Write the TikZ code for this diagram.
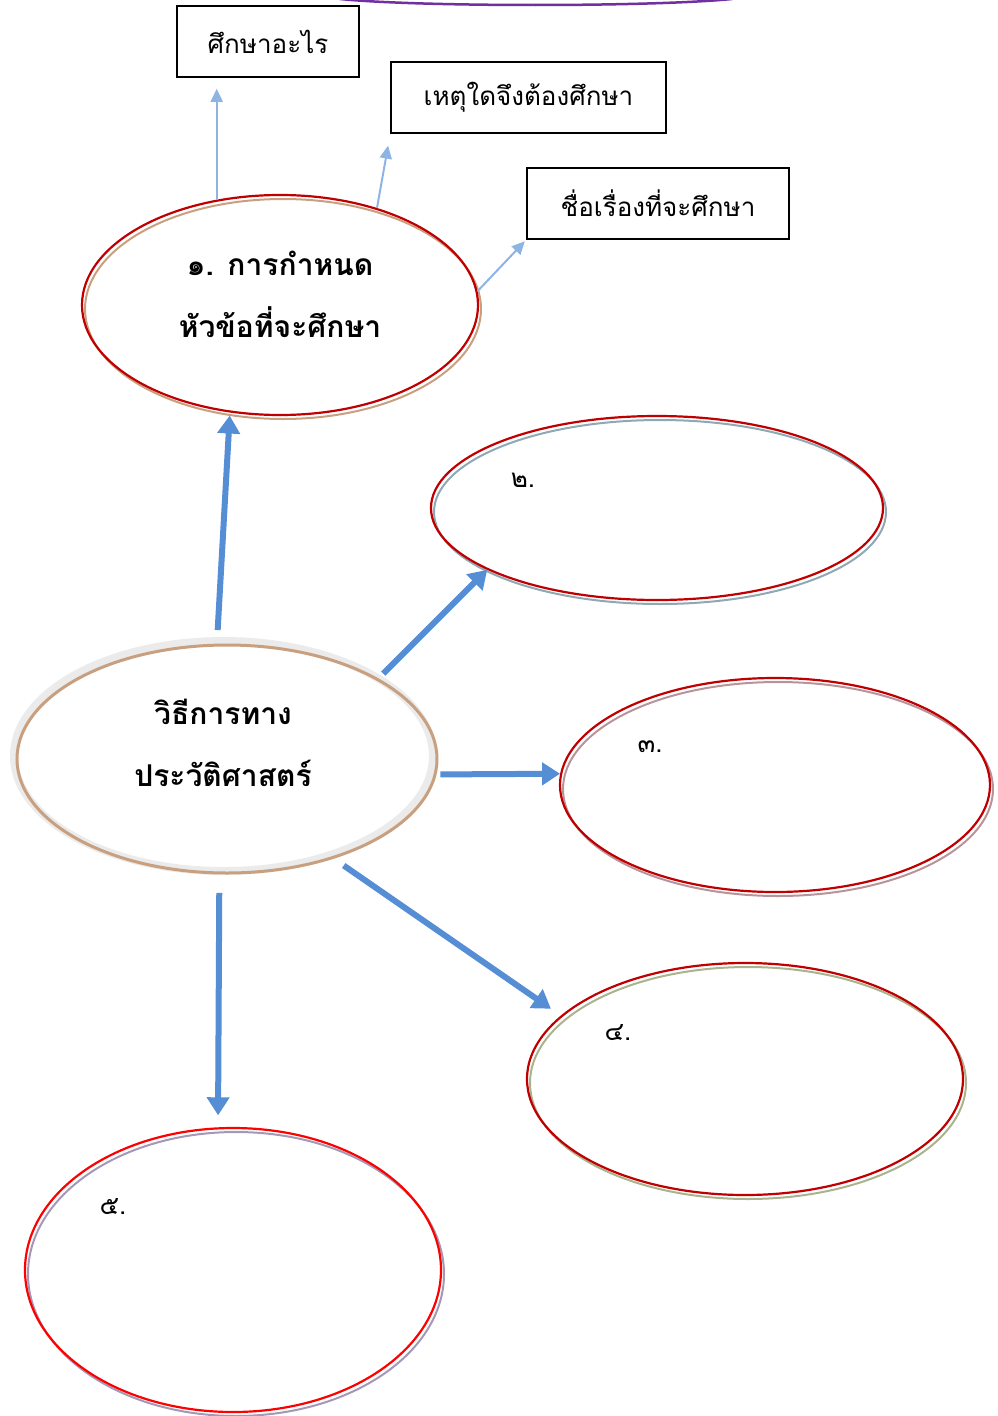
\documentclass[tikz,border=0pt]{standalone}
\usepackage{fontspec}
\newfontfamily\thaifont[Script=Thai]{Loma}
\usetikzlibrary{shapes.geometric,arrows.meta}
\definecolor{darkred}{HTML}{C00000}
\definecolor{brightred}{HTML}{FF0000}
\definecolor{arrowblue}{HTML}{558ED5}
\definecolor{paleblue}{HTML}{8DB4E2}
\definecolor{ringgray}{HTML}{EBEBEB}
\definecolor{tanline}{HTML}{C9A07F}
\definecolor{tealgray}{HTML}{8EA9B4}
\definecolor{rosegray}{HTML}{B8949A}
\definecolor{olivegray}{HTML}{A9B48E}
\definecolor{lilacgray}{HTML}{A398B8}
\definecolor{arcpurple}{HTML}{7030A0}
\begin{document}
\begin{tikzpicture}[x=1pt,y=-1pt,
  every node/.style={font=\thaifont\fontsize{26}{30}\selectfont},
  textbox/.style={draw,line width=1.6pt,minimum height=71pt,inner sep=0pt},
  bubble/.style={ellipse,draw=darkred,line width=2.2pt,inner sep=0pt},
  headline/.style={font=\thaifont\bfseries\fontsize{30}{62}\selectfont,align=center},
  bigarrow/.style={-{Triangle[width=22pt,length=18pt]},line width=6pt,arrowblue},
  thinarrow/.style={-{Triangle[width=12pt,length=13pt]},line width=2pt,paleblue}]
\useasboundingbox (0,0) rectangle (997,1416);
\draw[arcpurple,line width=2.5pt] (340,-1) .. controls (420,7) and (650,7) .. (732,-1);

% boxes
\node[textbox,minimum width=182pt] (what) at (268,41.5) {ศึกษาอะไร};
\node[textbox,minimum width=275pt] (why) at (528.5,97.5) {เหตุใดจึงต้องศึกษา};
\node[textbox,minimum width=262pt] (title) at (658,203.5) {ชื่อเรื่องที่จะศึกษา};

% shadows
\draw[tanline,line width=2pt] (283,309) ellipse [x radius=198,y radius=110];
\draw[tealgray,line width=2pt] (660,512) ellipse [x radius=226,y radius=92];
\draw[rosegray,line width=2pt] (778,789) ellipse [x radius=215,y radius=107];
\draw[olivegray,line width=2pt] (748,1083) ellipse [x radius=218,y radius=116];
\draw[lilacgray,line width=2pt] (236,1274) ellipse [x radius=208,y radius=142];

% ellipses
\node[bubble,minimum width=396pt,minimum height=220pt] (topic) at (280,305) {};
\node[headline] (topictext) at (280,294) {๑. การกำหนด\\หัวข้อที่จะศึกษา};
\node[ellipse,draw=ringgray,line width=8pt,inner sep=0pt,minimum width=419pt,minimum height=230pt] (hist) at (223.5,756) {};
\draw[tanline,line width=3pt] (227,759) ellipse [x radius=210,y radius=114];
\node[headline] (histtext) at (223,743) {วิธีการทาง\\ประวัติศาสตร์};
\node[bubble,minimum width=452pt,minimum height=184pt] (stage2) at (657,508) {};
\node[bubble,minimum width=430pt,minimum height=214pt] (stage3) at (775,785) {};
\node[bubble,minimum width=436pt,minimum height=232pt] (stage4) at (745,1079) {};
\node[bubble,draw=brightred,minimum width=416pt,minimum height=284pt] (stage5) at (233,1270) {};

% numbers
\node (n2) at (523,480) {๒.};
\node (n3) at (650,747) {๓.};
\node (n4) at (618,1033) {๔.};
\node (n5) at (113,1207) {๕.};

% arrows
\draw[thinarrow,shorten >=11pt] (topic.121) -- (topic.121 |- what.south);
\draw[thinarrow,shorten >=12pt] (topic.45) -- (why.south west);
\draw[thinarrow,shorten >=2pt] (topic.4) -- (title.south west);
\draw[bigarrow,shorten <=7pt,shorten >=3pt] (hist.93) -- (topic.245);
\draw[bigarrow,shorten <=3pt] (hist.27) -- (stage2.200);
\draw[bigarrow,shorten <=6pt] (hist.-5) -- (stage3.177);
\draw[bigarrow,shorten <=13pt,shorten >=12pt] (hist.-43) -- (stage4.161);
\draw[bigarrow,shorten <=18pt,shorten >=12pt] (hist.268) -- (stage5.96);
\end{tikzpicture}
\end{document}
